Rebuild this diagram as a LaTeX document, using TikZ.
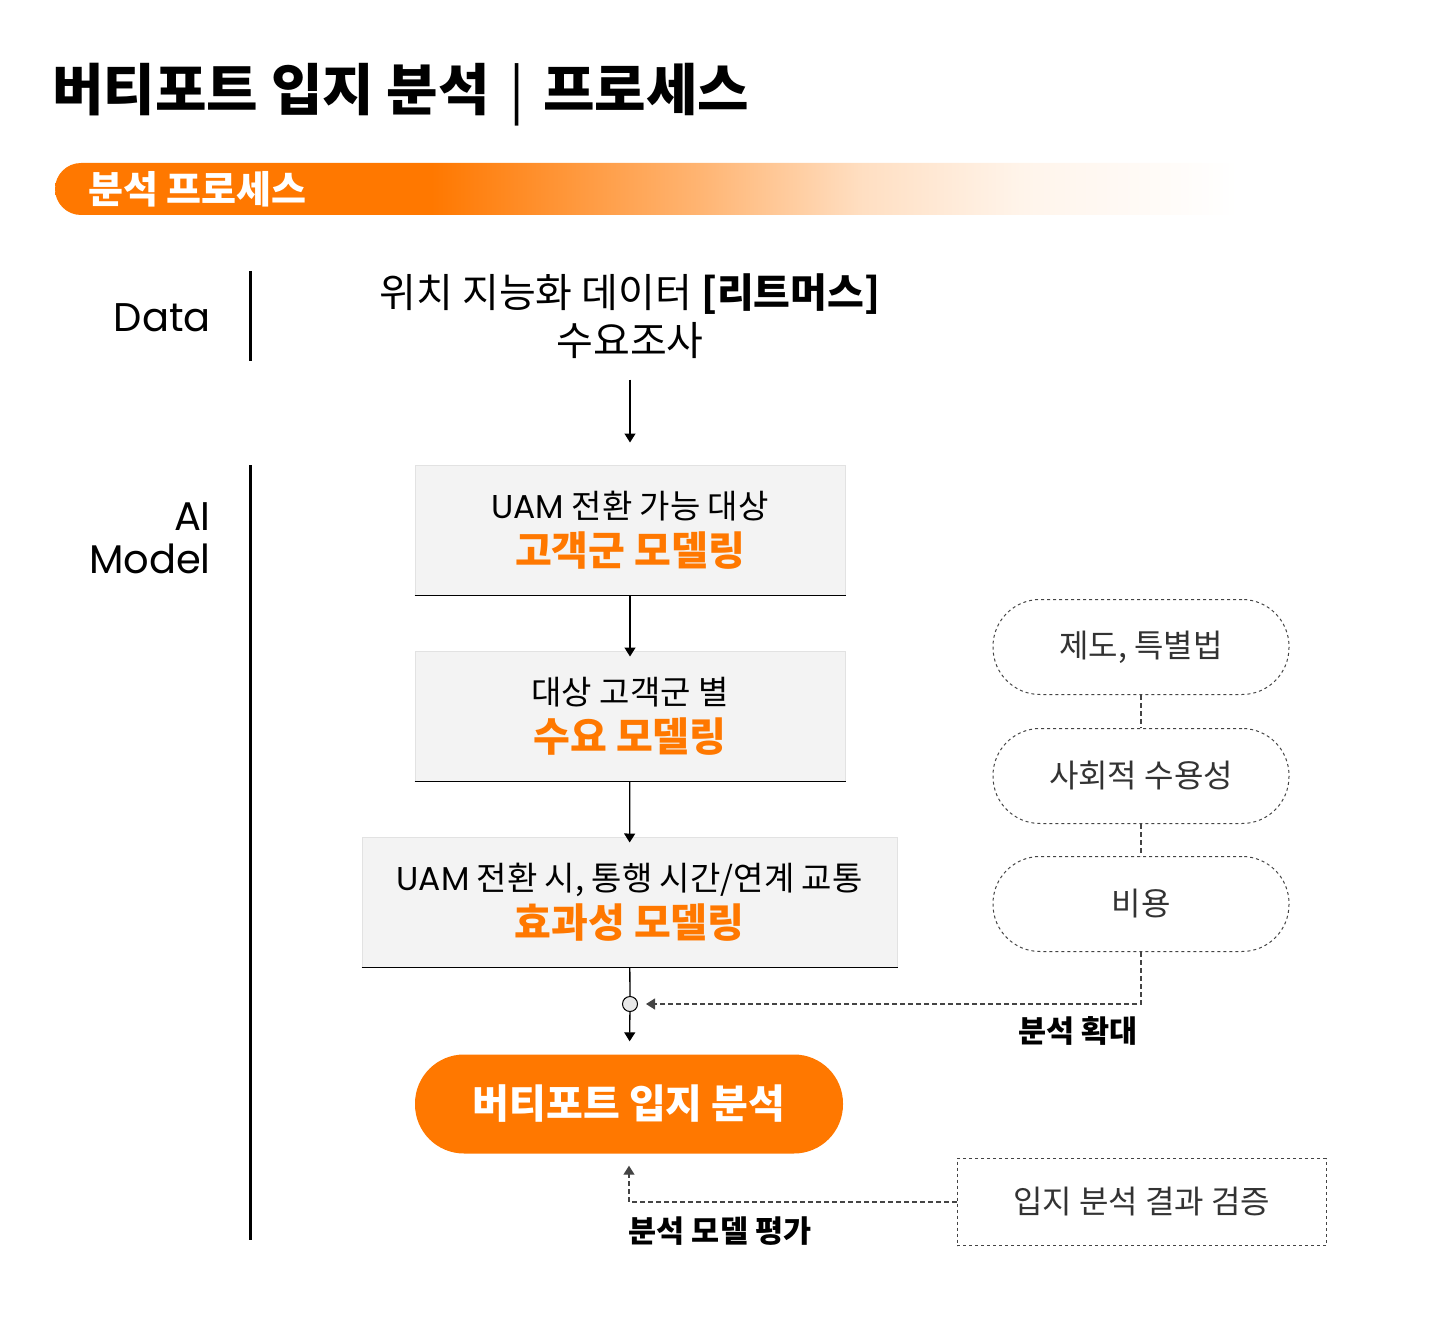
\documentclass[tikz,border=0pt]{standalone}
\usepackage{fontspec}
\setmainfont{Noto Sans CJK KR}
\newfontfamily\pop{Poppins}
\usetikzlibrary{arrows.meta}
\definecolor{uamorange}{HTML}{FF7800}
\definecolor{boxgray}{HTML}{F3F3F3}
\definecolor{boxedge}{HTML}{E2E2E2}
\definecolor{dashgray}{HTML}{444444}
\definecolor{pilltext}{HTML}{333333}
\colorlet{fadeA}{uamorange!55!white}
\colorlet{fadeB}{uamorange!24!white}
\colorlet{fadeC}{uamorange!8!white}
\pgfdeclarehorizontalshading{barfade}{100bp}{color(0bp)=(uamorange); color(25bp)=(uamorange); color(39bp)=(uamorange); color(49bp)=(fadeA); color(55bp)=(fadeB); color(61bp)=(fadeC); color(69bp)=(white); color(100bp)=(white)}
\newcommand\modelhl[1]{{\fontsize{40}{50}\selectfont\bfseries\color{uamorange}#1}}

\begin{document}
\begin{tikzpicture}[x=1pt,y=-1pt,>={Triangle[width=11pt,length=9pt]},
  every node/.style={inner sep=0pt},
  sidelabel/.style={font=\pop\fontsize{40}{43}\selectfont,align=right,anchor=east},
  sidebar/.style={line width=3pt},
  modelbox/.style={draw=boxedge,fill=boxgray,line width=1pt,minimum width=430pt,
    minimum height=130pt,align=center,font=\fontsize{33}{47}\selectfont},
  optpill/.style={draw=dashgray,dashed,line width=1pt,rounded corners=47pt,
    minimum width=296pt,minimum height=95pt,text=pilltext,font=\fontsize{32}{36}\selectfont},
  optline/.style={draw=dashgray,dash pattern=on 5pt off 3pt,line width=1.2pt},
  flowline/.style={line width=1.3pt},
  flowlabel/.style={font=\fontsize{30.5}{34}\selectfont\bfseries},
  ]
  \useasboundingbox (0,0) rectangle (1440,1340);

  \node[anchor=west,font=\fontsize{56}{62}\selectfont\bfseries] (title) at (52,95) {버티포트 입지 분석\hspace{19pt}{\mdseries|}\hspace{19pt}프로세스};

  \path[shading=barfade] (1400,163) -- (81,163) arc[start angle=90,end angle=270,radius=26pt] -- (1400,215) -- cycle;
  \node[anchor=west,text=white,font=\fontsize{38}{42}\selectfont\bfseries] (bar) at (88,189) {분석 프로세스};

  \node[sidelabel] (data) at (211,318) {Data};
  \node[sidelabel] (model) at (211,538) {AI\\Model};
  \draw[sidebar] (250,271) -- (250,361);
  \draw[sidebar] (250,465) -- (250,1240);

  \node[align=center,font=\fontsize{40}{48}\selectfont] (src) at (630,316) {위치 지능화 데이터 {\bfseries [리트머스]}\\수요조사};

  \node[modelbox] (cust) at (630,530) {{\pop UAM} 전환 가능 대상\\\modelhl{고객군 모델링}};
  \node[modelbox] (dem) at (630,716) {대상 고객군 별\\\modelhl{수요 모델링}};
  \node[modelbox,minimum width=535pt] (eff) at (629.5,902) {{\pop UAM} 전환 시, 통행 시간/연계 교통\\\modelhl{효과성 모델링}};
  \foreach \b in {cust,dem,eff}
    \draw[flowline] (\b.south west) -- (\b.south east);

  \node[circle,draw,fill=black!9,line width=1pt,minimum size=15pt] (junc) at (630,1004) {};
  \node[fill=uamorange,rounded corners=49pt,minimum width=428pt,minimum height=99pt,
    text=white,font=\fontsize{40}{44}\selectfont\bfseries] (site) at (629,1104) {버티포트 입지 분석};

  \node[optpill] (law) at (1141,647) {제도, 특별법};
  \node[optpill] (soc) at (1141,776) {사회적 수용성};
  \node[optpill] (cost) at (1141,904) {비용};
  \node[draw=dashgray,dashed,line width=1pt,minimum width=369pt,minimum height=87pt,
    text=pilltext,font=\fontsize{32}{36}\selectfont] (check) at (1141.5,1202) {입지 분석 결과 검증};

  \draw[flowline,->,shorten <=21pt,shorten >=22pt] (src) -- (cust);
  \draw[flowline,->,shorten >=-6pt] (cust) -- (dem);
  \draw[flowline,->,shorten >=-6pt] (dem) -- (eff);
  \draw[flowline] (eff) -- (junc);
  \draw[flowline,->,shorten >=13pt] (junc) -- (site);

  \draw[optline] (law) -- (soc);
  \draw[optline] (soc) -- (cost);
  \draw[optline,->,shorten >=8pt] (cost.south) |- (junc.east);
  \draw[optline,->,shorten >=12pt] (check.west) -| (site.south);

  \node[flowlabel] (grow) at (1078,1031) {분석 확대};
  \node[flowlabel] (eval) at (720,1231) {분석 모델 평가};
\end{tikzpicture}
\end{document}
